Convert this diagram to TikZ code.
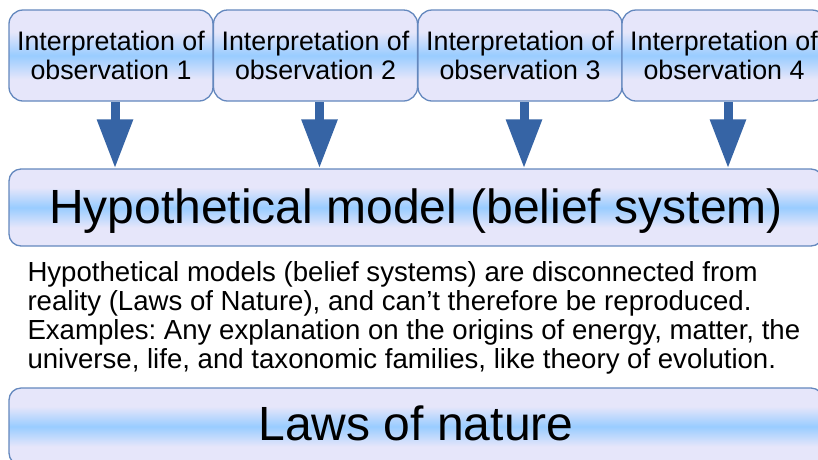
\documentclass[tikz,border=0pt]{standalone}
\usepackage{fontspec}
\setmainfont{Liberation Sans}
\usetikzlibrary{arrows.meta,calc}
\frenchspacing
\definecolor{lav}{RGB}{230,230,250}
\definecolor{lblue}{RGB}{153,204,255}
\definecolor{bord}{RGB}{100,136,190}
\definecolor{arr}{RGB}{54,100,165}
\pgfdeclareverticalshading{band}{100bp}{color(0bp)=(lav); color(37bp)=(lav); color(50bp)=(lblue); color(63bp)=(lav); color(100bp)=(lav)}
\tikzset{
  box/.style={draw=bord, line width=1.3pt, rounded corners=14pt, shading=band, inner sep=0pt, text=black},
  obs/.style={box, minimum width=204pt, minimum height=91pt, align=center,
    font=\fontsize{26.8pt}{29.5pt}\selectfont, text height=48pt, text depth=0pt},
  big/.style={box, rounded corners=12pt, minimum width=814pt, minimum height=77pt,
    font=\fontsize{48pt}{50pt}\selectfont},
  blockarrow/.style={draw=arr, line width=9pt, -{Triangle[width=34pt,length=49pt]}},
  desc/.style={anchor=base west, align=left, inner sep=0pt, text=black,
    font=\fontsize{27.6pt}{29pt}\selectfont}
}
\begin{document}
\begin{tikzpicture}[x=1pt,y=-1pt]
\clip (0,0) rectangle (818,459);
\fill[white] (0,0) rectangle (818,459);
\node[obs] (o1) at (111,55.5) {Interpretation of\\observation 1};
\node[obs] (o2) at (315.5,55.5) {Interpretation of\\observation 2};
\node[obs] (o3) at (520,55.5) {Interpretation of\\observation 3};
\node[obs] (o4) at (724,55.5) {Interpretation of\\observation 4};
\node[big, text height=34pt, text depth=3pt] (hm) at (416,207.5) {Hypothetical model (belief system)};
\node[desc] (txt) at (27.3,368.5) {Hypothetical models (belief systems) are disconnected from\\
reality (Laws of Nature), and can’t therefore be reproduced.\\
Examples: Any explanation on the origins of energy, matter, the\\
universe, life, and taxonomic families, like theory of evolution.};
\node[big, text height=30pt, text depth=3pt] (ln) at (416,426.5) {Laws of nature};
\foreach \o in {o1,o2,o3,o4}{
  \draw[blockarrow] ([xshift=4pt,yshift=-0.6pt]\o.south) -- ([xshift=4pt]\o.south |- hm.north);
}
\end{tikzpicture}
\end{document}
